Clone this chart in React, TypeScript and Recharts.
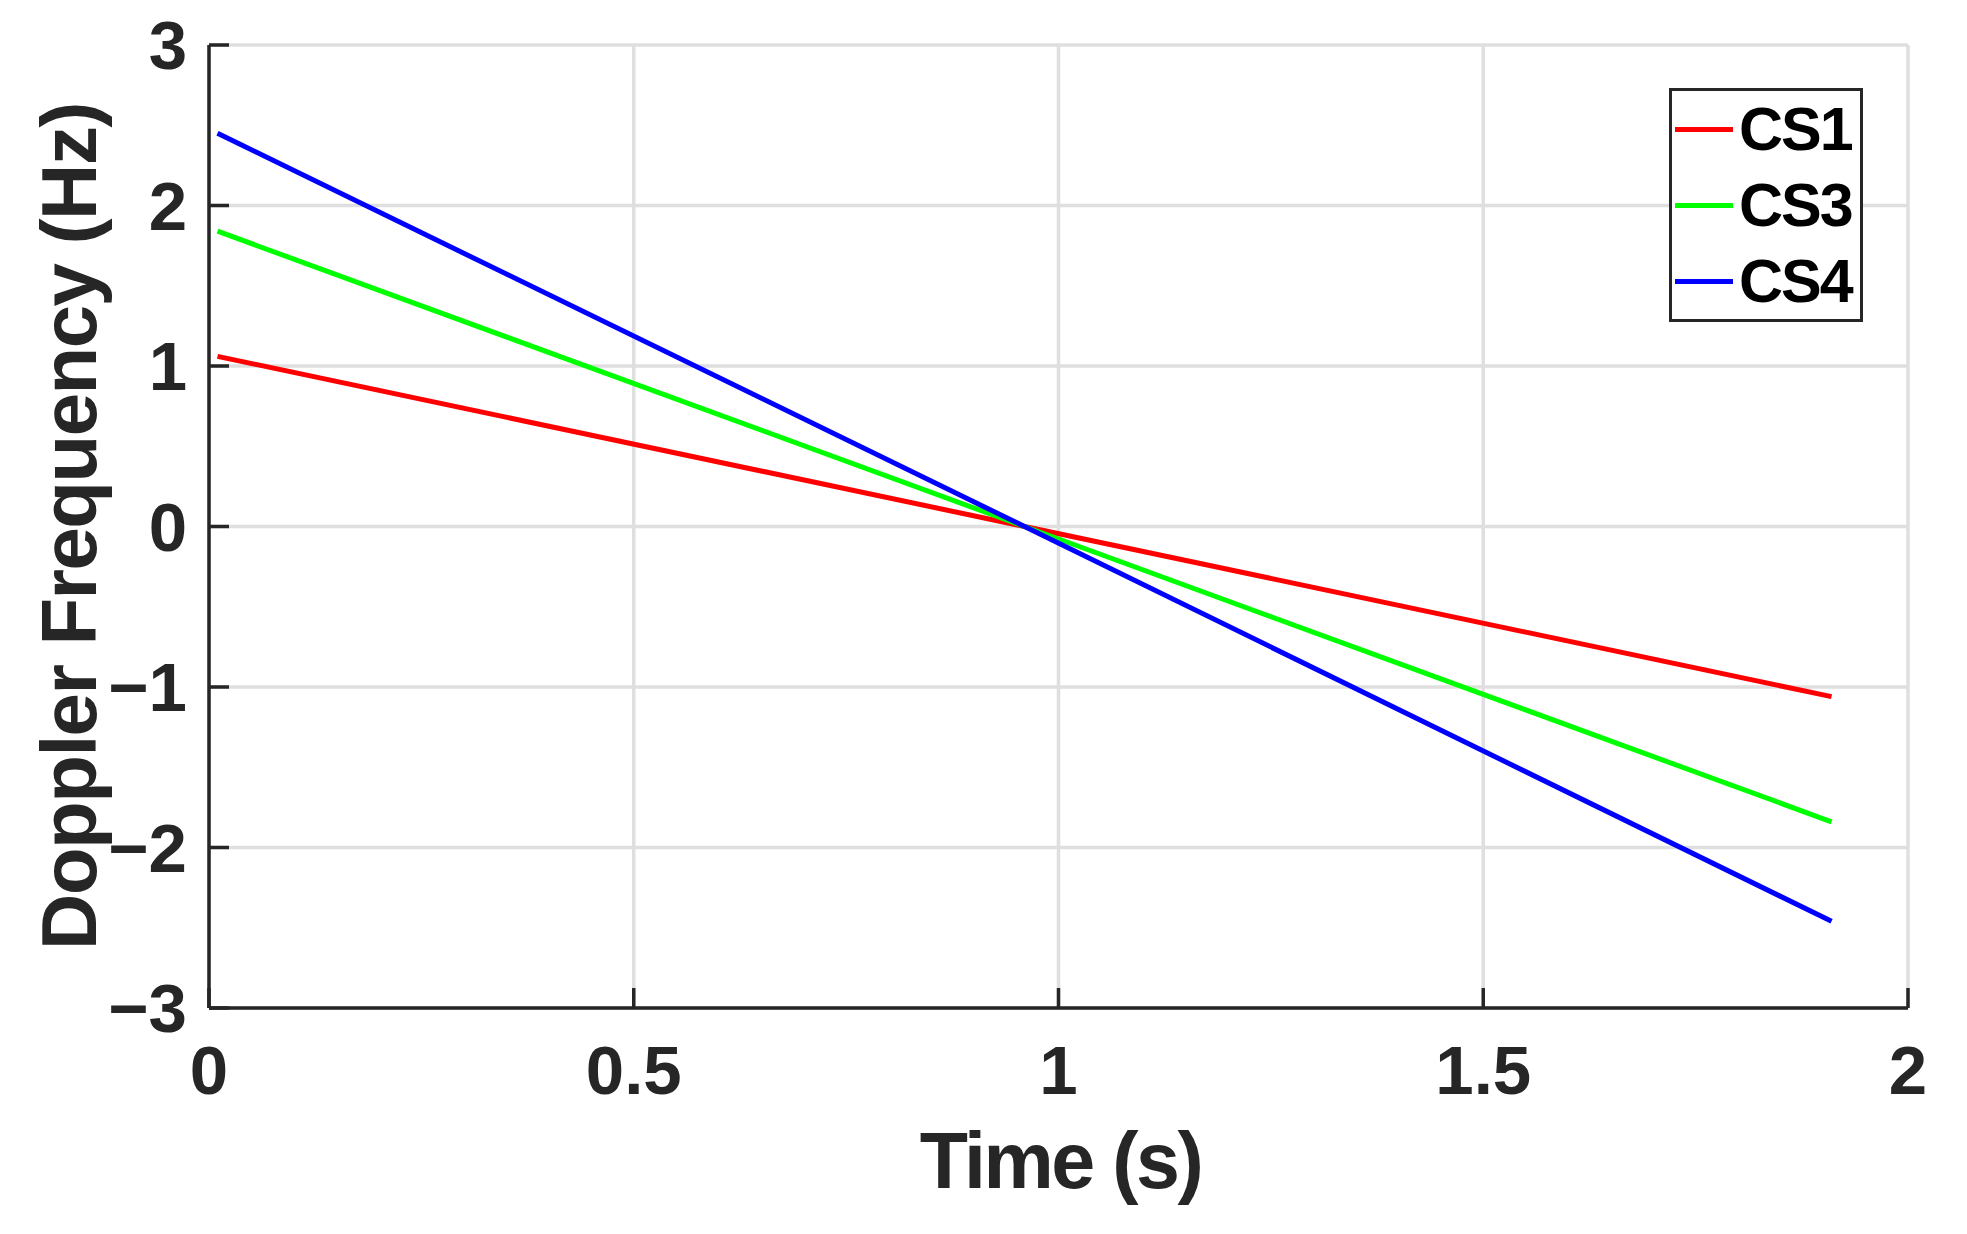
import { LineChart, Line, XAxis, YAxis, CartesianGrid, Legend } from "recharts";

const time = [0.01, 0.96, 1.91];
const cs1 = [1.06, 0, -1.06];
const cs3 = [1.84, 0, -1.84];
const cs4 = [2.45, 0, -2.46];

const seriesNames = ["CS1", "CS3", "CS4"];
const seriesColors = ["#ff0000", "#00ff00", "#0000ff"];

const xTicks = [0, 0.5, 1, 1.5, 2];
const yTicks = [-3, -2, -1, 0, 1, 2, 3];

const data = time.map((t, i) => ({
  t,
  CS1: cs1[i],
  CS3: cs3[i],
  CS4: cs4[i],
}));

const font = "Arial, 'Liberation Sans', Helvetica, sans-serif";
const ink = "#262626";

const tickStyle = {
  fill: ink,
  fontSize: 69,
  fontWeight: "bold",
  fontFamily: font,
};

const fmtY = (v: number) => (v < 0 ? `\u2212${Math.abs(v)}` : String(v));

function LegendBox({ payload }: any) {
  return (
    <div
      style={{
        boxSizing: "border-box",
        width: 194,
        height: 234,
        border: `3px solid ${ink}`,
        background: "#fff",
      }}
    >
      {(payload || []).map((p: any) => (
        <div
          key={p.value}
          style={{ height: 76, display: "flex", alignItems: "center" }}
        >
          <div
            style={{ width: 58, height: 5, background: p.color, marginLeft: 3 }}
          />
          <span
            style={{
              marginLeft: 6,
              fontFamily: font,
              fontWeight: "bold",
              fontSize: 61,
              letterSpacing: -2,
              color: "#000",
              lineHeight: "76px",
            }}
          >
            {p.value}
          </span>
        </div>
      ))}
    </div>
  );
}

export default function App() {
  return (
    <div style={{ position: "absolute", left: 0, top: 0, background: "#fff" }}>
      <LineChart
        width={1967}
        height={1234}
        data={data}
        margin={{ top: 45, right: 59, left: 0, bottom: 0 }}
      >
        <CartesianGrid stroke="#dfdfdf" strokeWidth={3.5} />
        <XAxis
          dataKey="t"
          type="number"
          domain={[0, 2]}
          ticks={xTicks}
          height={226}
          stroke={ink}
          strokeWidth={3.5}
          tickSize={-20}
          tickMargin={57}
          tick={tickStyle}
          label={{
            value: "Time (s)",
            position: "center",
            dx: 2,
            dy: 39,
            fill: ink,
            fontSize: 79,
            fontWeight: "bold",
            fontFamily: font,
            letterSpacing: -2.5,
          }}
        />
        <YAxis
          type="number"
          domain={[-3, 3]}
          ticks={yTicks}
          width={209}
          stroke={ink}
          strokeWidth={3.5}
          tickSize={-20}
          tickMargin={42}
          tick={tickStyle}
          tickFormatter={fmtY}
          label={{
            value: "Doppler Frequency (Hz)",
            angle: -90,
            position: "center",
            dx: -36,
            fill: ink,
            fontSize: 78,
            fontWeight: "bold",
            fontFamily: font,
            letterSpacing: -1.5,
          }}
        />
        <Legend
          layout="vertical"
          align="center"
          verticalAlign="middle"
          content={<LegendBox />}
          wrapperStyle={{ left: 1669, top: 88, width: 194, height: 234 }}
        />
        {seriesNames.map((name, i) => (
          <Line
            key={name}
            type="linear"
            dataKey={name}
            stroke={seriesColors[i]}
            strokeWidth={5}
            dot={false}
            activeDot={false}
            isAnimationActive={false}
          />
        ))}
      </LineChart>
    </div>
  );
}
